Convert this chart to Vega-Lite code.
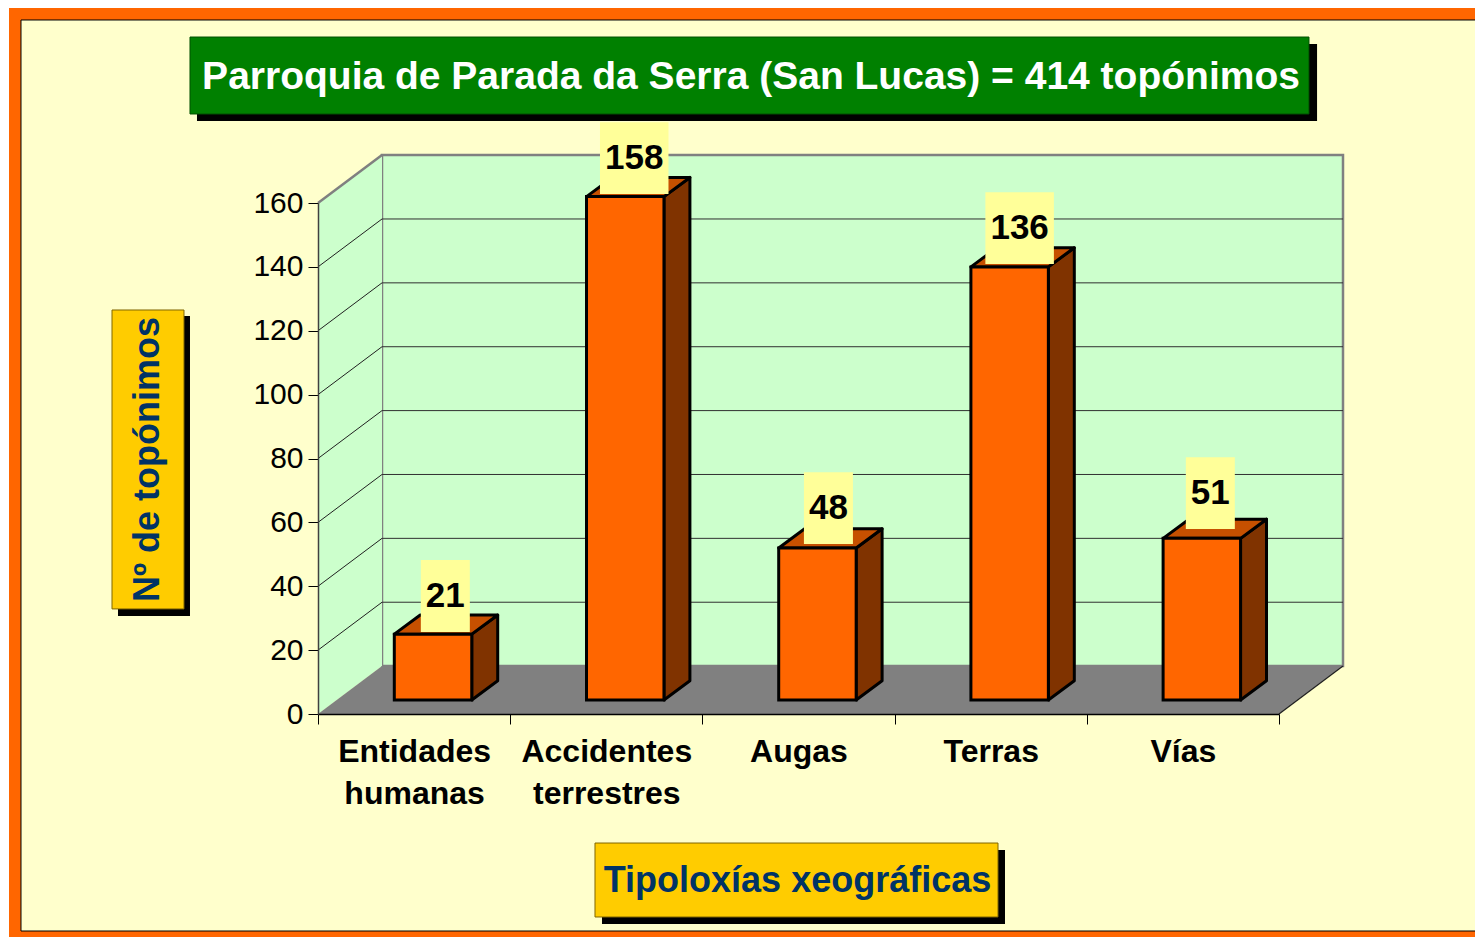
{"$schema":"https://vega.github.io/schema/vega-lite/v6.json","width":961,"height":511,"autosize":"none","padding":{"left":318,"top":203,"right":196,"bottom":223},"background":"white","config":{"font":"Liberation Sans","view":{"stroke":null}},
"data":{"values":[{"a":1}]},
"layer":[
{"mark":{"type":"rect","color":"#FF6600"},"encoding":{
"x":{"datum":-1.6077,"type":"quantitative","scale":{"domain":[0,5]},"axis":{"values":[0,0.5,1,1.5,2,2.5,3,3.5,4,4.5,5],"title":"Tipoloxías xeográficas","titleFont":"Liberation Sans","titleFontSize":36,"titleFontWeight":"bold","titleColor":"#003366","titleX":479,"titleY":177,"titleAlign":"center","titleBaseline":"alphabetic","zindex":1,"grid":false,"domainColor":"black","domainWidth":1.5,"tickColor":"black","tickSize":10,"tickOpacity":{"condition":{"test":"datum.value % 1 == 0","value":1},"value":0},"labelFont":"Liberation Sans","labelFontSize":32,"labelFontWeight":"bold","labelColor":"black","labelLineHeight":42,"labelPadding":12,"labelOverlap":false,"labelBound":false,"labelFlush":false,"labelAngle":0,"labelExpr":"datum.value==0.5?['Entidades','humanas']:datum.value==1.5?['Accidentes','terrestres']:datum.value==2.5?'Augas':datum.value==3.5?'Terras':datum.value==4.5?'Vías':''"}},
"x2":{"datum":6.02},
"y":{"datum":221.06,"type":"quantitative","scale":{"domain":[0,160]},"axis":{"values":[0,20,40,60,80,100,120,140,160],"title":"Nº de topónimos","titleFont":"Liberation Sans","titleFontSize":36,"titleFontWeight":"bold","titleColor":"#003366","titleX":-160,"titleY":256,"titleAngle":-90,"titleAlign":"center","titleBaseline":"alphabetic","zindex":1,"grid":false,"domainColor":"#404040","domainWidth":1.5,"tickColor":"black","tickSize":10,"labelFont":"Liberation Sans","labelFontSize":30,"labelColor":"black","labelPadding":5,"labelOverlap":false,"labelBound":false,"labelFlush":false}},
"y2":{"datum":-69.82}}},
{"mark":{"type":"rect","color":"#FFFFCC","stroke":"black","strokeWidth":1},"encoding":{"x":{"datum":-1.5453,"type":"quantitative","scale":{"domain":[0,5]}},"x2":{"datum":6.03},"y":{"datum":217.3,"type":"quantitative","scale":{"domain":[0,160]}},"y2":{"datum":-67.95}}},
{"mark":{"type":"rect","color":"black"},"encoding":{"x":{"datum":-0.6296,"type":"quantitative","scale":{"domain":[0,5]}},"x2":{"datum":5.198},"y":{"datum":209.8,"type":"quantitative","scale":{"domain":[0,160]}},"y2":{"datum":185.7}}},
{"mark":{"type":"rect","color":"#008000","stroke":"#005000","strokeWidth":1},"encoding":{"x":{"datum":-0.666,"type":"quantitative","scale":{"domain":[0,5]}},"x2":{"datum":5.156},"y":{"datum":211.97,"type":"quantitative","scale":{"domain":[0,160]}},"y2":{"datum":187.87}}},
{"data":{"values":[{"titulo":"Parroquia de Parada da Serra (San Lucas) = 414 topónimos"}]},"mark":{"type":"text","color":"white","fontSize":39,"font":"Liberation Sans","fontWeight":"bold","align":"center","baseline":"alphabetic"},"encoding":{"text":{"field":"titulo"},"x":{"datum":2.2529,"type":"quantitative","scale":{"domain":[0,5]}},"y":{"datum":195.7,"type":"quantitative","scale":{"domain":[0,160]}}}},
{"mark":{"type":"rect","color":"black"},"encoding":{"x":{"datum":-1.0406,"type":"quantitative","scale":{"domain":[0,5]}},"x2":{"datum":-0.666},"y":{"datum":124.6,"type":"quantitative","scale":{"domain":[0,160]}},"y2":{"datum":30.7}}},
{"mark":{"type":"rect","color":"#FFCC00","stroke":"#806600","strokeWidth":1},"encoding":{"x":{"datum":-1.0718,"type":"quantitative","scale":{"domain":[0,5]}},"x2":{"datum":-0.6972},"y":{"datum":126.5,"type":"quantitative","scale":{"domain":[0,160]}},"y2":{"datum":32.9}}},
{"mark":{"type":"rect","color":"black"},"encoding":{"x":{"datum":1.4776,"type":"quantitative","scale":{"domain":[0,5]}},"x2":{"datum":3.5744},"y":{"datum":-42.6,"type":"quantitative","scale":{"domain":[0,160]}},"y2":{"datum":-65.75}}},
{"mark":{"type":"rect","color":"#FFCC00","stroke":"#806600","strokeWidth":1},"encoding":{"x":{"datum":1.4412,"type":"quantitative","scale":{"domain":[0,5]}},"x2":{"datum":3.538},"y":{"datum":-40.4,"type":"quantitative","scale":{"domain":[0,160]}},"y2":{"datum":-63.56}}},
{"mark":{"type":"rect","color":"#CCFFCC","stroke":"#808080","strokeWidth":2.5},"encoding":{"x":{"datum":0.333,"type":"quantitative","scale":{"domain":[0,5]}},"x2":{"datum":5.333},"y":{"datum":175,"type":"quantitative","scale":{"domain":[0,160]}},"y2":{"datum":15}}},
{"data":{"values":[{"k":0},{"k":1}]},"transform":[{"calculate":"datum.k*0.333","as":"px"},{"calculate":"datum.k*15","as":"lo"},{"calculate":"160+datum.k*15","as":"hi"}],"mark":{"type":"area","color":"#CCFFCC"},"encoding":{"x":{"field":"px","type":"quantitative","scale":{"domain":[0,5]}},"y":{"field":"hi","type":"quantitative","stack":null,"scale":{"domain":[0,160]}},"y2":{"field":"lo"}}},
{"data":{"values":[{"k":0},{"k":1}]},"transform":[{"calculate":"datum.k*0.333","as":"px"},{"calculate":"160+datum.k*15","as":"hi"}],"mark":{"type":"line","color":"#808080","strokeWidth":2.5},"encoding":{"x":{"field":"px","type":"quantitative","scale":{"domain":[0,5]}},"y":{"field":"hi","type":"quantitative","scale":{"domain":[0,160]}}}},
{"data":{"values":[{"k":0},{"k":1},{"k":2},{"k":3}]},"transform":[{"calculate":"[0,0.333,5,5.333][datum.k]","as":"px"},{"calculate":"[0,0,0,15][datum.k]","as":"lo"},{"calculate":"[0,15,15,15][datum.k]","as":"hi"}],"mark":{"type":"area","color":"#808080"},"encoding":{"x":{"field":"px","type":"quantitative","scale":{"domain":[0,5]}},"y":{"field":"hi","type":"quantitative","stack":null,"scale":{"domain":[0,160]}},"y2":{"field":"lo"}}},
{"data":{"values":[{"v":20},{"v":40},{"v":60},{"v":80},{"v":100},{"v":120},{"v":140}]},"transform":[{"calculate":"datum.v+15","as":"v2"}],"layer":[
{"mark":{"type":"rule","color":"#303030","strokeWidth":1},"encoding":{"x":{"datum":0.333,"type":"quantitative","scale":{"domain":[0,5]}},"x2":{"datum":5.333},"y":{"field":"v2","type":"quantitative","scale":{"domain":[0,160]}}}},
{"mark":{"type":"rule","color":"#202020","strokeWidth":1},"encoding":{"x":{"datum":0,"type":"quantitative","scale":{"domain":[0,5]}},"x2":{"datum":0.333},"y":{"field":"v","type":"quantitative","scale":{"domain":[0,160]}},"y2":{"field":"v2"}}}
]},
{"mark":{"type":"rule","color":"#202020","strokeWidth":1.2},"encoding":{"x":{"datum":5,"type":"quantitative","scale":{"domain":[0,5]}},"x2":{"datum":5.333},"y":{"datum":0,"type":"quantitative","scale":{"domain":[0,160]}},"y2":{"datum":15}}},
{"data":{"values":[{"categoria":"Entidades humanas","toponimos":21},{"categoria":"Accidentes terrestres","toponimos":158},{"categoria":"Augas","toponimos":48},{"categoria":"Terras","toponimos":136},{"categoria":"Vías","toponimos":51}]},
"transform":[{"window":[{"op":"row_number","as":"n"}]},{"calculate":"datum.n-1+0.397","as":"x0"},{"calculate":"datum.x0+0.403","as":"x1"},{"calculate":"datum.toponimos+4","as":"t"}],
"layer":[
{"transform":[{"calculate":"[0,1]","as":"p"},{"flatten":["p"]},{"calculate":"datum.x1+datum.p*0.135","as":"sx"},{"calculate":"4.4+datum.p*6","as":"lo"},{"calculate":"datum.t+datum.p*6","as":"hi"}],"mark":{"type":"area","color":"#803300","stroke":"black","strokeWidth":3,"strokeJoin":"round"},"encoding":{"detail":{"field":"categoria"},"x":{"field":"sx","type":"quantitative","scale":{"domain":[0,5]}},"y":{"field":"hi","type":"quantitative","stack":null,"scale":{"domain":[0,160]}},"y2":{"field":"lo"}}},
{"transform":[{"calculate":"[0,1,2,3]","as":"k"},{"flatten":["k"]},{"calculate":"datum.x0+[0,0.135,0.403,0.538][datum.k]","as":"sx"},{"calculate":"datum.t+[0,0,0,6][datum.k]","as":"lo"},{"calculate":"datum.t+[0,6,6,6][datum.k]","as":"hi"}],"mark":{"type":"area","color":"#C65000","stroke":"black","strokeWidth":3,"strokeJoin":"round"},"encoding":{"detail":{"field":"categoria"},"x":{"field":"sx","type":"quantitative","scale":{"domain":[0,5]}},"y":{"field":"hi","type":"quantitative","stack":null,"scale":{"domain":[0,160]}},"y2":{"field":"lo"}}},
{"mark":{"type":"rect","color":"#FF6600","stroke":"black","strokeWidth":3},"encoding":{"x":{"field":"x0","type":"quantitative","scale":{"domain":[0,5]}},"x2":{"field":"x1"},"y":{"field":"t","type":"quantitative","scale":{"domain":[0,160]}},"y2":{"datum":4.4}}},
{"transform":[{"calculate":"(datum.x0+datum.x1)/2+[12.3,9,11,10,8.5][datum.n-1]/192.2","as":"xc"},{"calculate":"(length(toString(datum.toponimos))*19.5+10)/2/192.2","as":"hw"},{"calculate":"datum.xc-datum.hw","as":"bx0"},{"calculate":"datum.xc+datum.hw","as":"bx1"},{"calculate":"datum.t+[0.7,0.8,1.2,0.9,2.9][datum.n-1]","as":"by0"},{"calculate":"datum.by0+22.5","as":"by1"},{"calculate":"datum.by0+11.4","as":"ty"}],"layer":[
{"mark":{"type":"rect","color":"#FFFF99"},"encoding":{"x":{"field":"bx0","type":"quantitative","scale":{"domain":[0,5]}},"x2":{"field":"bx1"},"y":{"field":"by0","type":"quantitative","scale":{"domain":[0,160]}},"y2":{"field":"by1"}}},
{"mark":{"type":"text","fontSize":35,"fontWeight":"bold","color":"black","font":"Liberation Sans","baseline":"middle","align":"center"},"encoding":{"text":{"field":"toponimos","type":"quantitative"},"x":{"field":"xc","type":"quantitative","scale":{"domain":[0,5]}},"y":{"field":"ty","type":"quantitative","scale":{"domain":[0,160]}}}}
]}
]}
]}
